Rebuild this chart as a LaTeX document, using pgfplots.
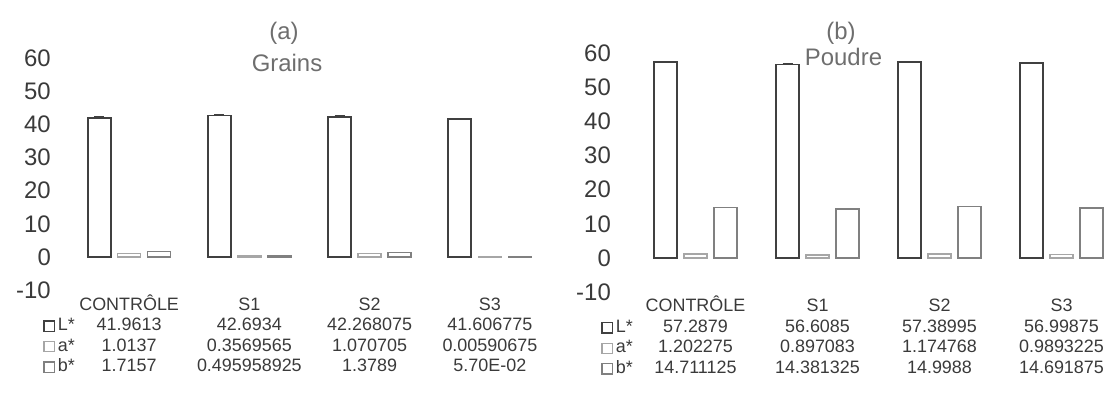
\documentclass[border=0pt]{standalone}
\usepackage{pgfplots}
\pgfplotsset{compat=1.18}
\usepackage{fontspec}
\setmainfont{Liberation Sans}
\definecolor{cL}{HTML}{404040}
\definecolor{ca}{HTML}{A6A6A6}
\definecolor{cb}{HTML}{808080}
\definecolor{txt}{HTML}{3A3A3A}
\definecolor{ttl}{HTML}{6E6E6E}
\newcommand\ts{\rule[-5bp]{0pt}{19.5bp}}
\newcommand\sq[1]{{\color{#1}\setlength\fboxrule{1.3bp}\setlength\fboxsep{0pt}\fbox{\rule{0pt}{9bp}\rule{9bp}{0pt}}}\,}
\pgfplotsset{panel/.style={
  scale only axis, ybar=7bp, bar width=23bp,
  xmin=-0.5, xmax=3.5, ymin=-10, ymax=60,
  xtick={0,1,2,3}, ytick={-10,0,10,20,30,40,50,60},
  yticklabels={-10,0,10,20,30,40,50,60},
  axis line style={draw=none}, major tick length=0pt, tick style={draw=none},
  yticklabel style={font=\fontsize{24}{28}\selectfont, text=txt, inner sep=0pt},
  xticklabel style={font=\fontsize{18}{19.5}\selectfont, text=txt, inner sep=0pt, align=center},
  clip=false,
  error bars/error bar style={cL, line width=1bp},
  error bars/error mark options={rotate=90, mark size=5bp, line width=1bp},
}}
\begin{document}
\begin{tikzpicture}
\useasboundingbox (0,0) rectangle (1113bp,396bp);
% ---------- (a) Grains
\begin{axis}[panel, at={(69bp,105.8bp)}, anchor=south west, width=481bp, height=232.2bp,
  yticklabel style={xshift=-18bp}, xticklabel style={yshift=-5.3bp},
  xticklabels={{\ts CONTR\smash{Ô}LE\\\ts 41.9613\\\ts 1.0137\\\ts 1.7157},
               {\ts S1\\\ts 42.6934\\\ts 0.3569565\\\ts 0.495958925},
               {\ts S2\\\ts 42.268075\\\ts 1.070705\\\ts 1.3789},
               {\ts S3\\\ts 41.606775\\\ts 0.00590675\\\ts 5.70E-02}}]
\addplot[fill=white, draw=cL, line width=1.8bp, error bars/.cd, y dir=plus, y explicit]
  coordinates {(0,41.9613)+-(0,0.3) (1,42.6934)+-(0,0.3) (2,42.268075)+-(0,0.3) (3,41.606775)+-(0,0.3)};
\addplot[fill=white, draw=ca, line width=1.4bp] coordinates {(0,1.0137) (1,0.3569565) (2,1.070705) (3,0.00590675)};
\addplot[fill=white, draw=cb, line width=1.4bp] coordinates {(0,1.7157) (1,0.495958925) (2,1.3789) (3,0.057)};
\node[anchor=north east, inner sep=0pt, align=right, font=\fontsize{18}{19.5}\selectfont, text=txt, xshift=6bp, yshift=-5.3bp]
  at (rel axis cs:0,0) {\ts\\\sq{cL}L*\ts\\\sq{ca}a*\ts\\\sq{cb}b*\ts};
\end{axis}
% ---------- (b) Poudre
\begin{axis}[panel, at={(634.5bp,103.8bp)}, anchor=south west, width=488bp, height=239.2bp,
  yticklabel style={xshift=-23.5bp}, xticklabel style={yshift=-5bp},
  xticklabels={{\ts CONTR\smash{Ô}LE\\\ts 57.2879\\\ts 1.202275\\\ts 14.711125},
               {\ts S1\\\ts 56.6085\\\ts 0.897083\\\ts 14.381325},
               {\ts S2\\\ts 57.38995\\\ts 1.174768\\\ts 14.9988},
               {\ts S3\\\ts 56.99875\\\ts 0.9893225\\\ts 14.691875}}]
\addplot[fill=white, draw=cL, line width=1.8bp, error bars/.cd, y dir=plus, y explicit]
  coordinates {(0,57.2879)+-(0,0.2) (1,56.6085)+-(0,0.2) (2,57.38995)+-(0,0.2) (3,56.99875)+-(0,0.2)};
\addplot[fill=white, draw=ca, line width=1.4bp] coordinates {(0,1.202275) (1,0.897083) (2,1.174768) (3,0.9893225)};
\addplot[fill=white, draw=cb, line width=1.4bp] coordinates {(0,14.711125) (1,14.381325) (2,14.9988) (3,14.691875)};
\node[anchor=north east, inner sep=0pt, align=right, font=\fontsize{18}{19.5}\selectfont, text=txt, xshift=-1.5bp, yshift=-5bp]
  at (rel axis cs:0,0) {\ts\\\sq{cL}L*\ts\\\sq{ca}a*\ts\\\sq{cb}b*\ts};
\end{axis}
% ---------- titles
\node[anchor=base, font=\fontsize{24}{28}\selectfont, text=ttl, inner sep=0pt] at (284bp,356bp) {(a)};
\node[anchor=base, font=\fontsize{24}{28}\selectfont, text=ttl, inner sep=0pt] at (287bp,324.5bp) {Grains};
\node[anchor=base, font=\fontsize{24}{28}\selectfont, text=ttl, inner sep=0pt] at (841bp,356bp) {(b)};
\node[anchor=base, font=\fontsize{24}{28}\selectfont, text=ttl, inner sep=0pt] at (843.5bp,330bp) {Poudre};
\end{tikzpicture}
\end{document}
